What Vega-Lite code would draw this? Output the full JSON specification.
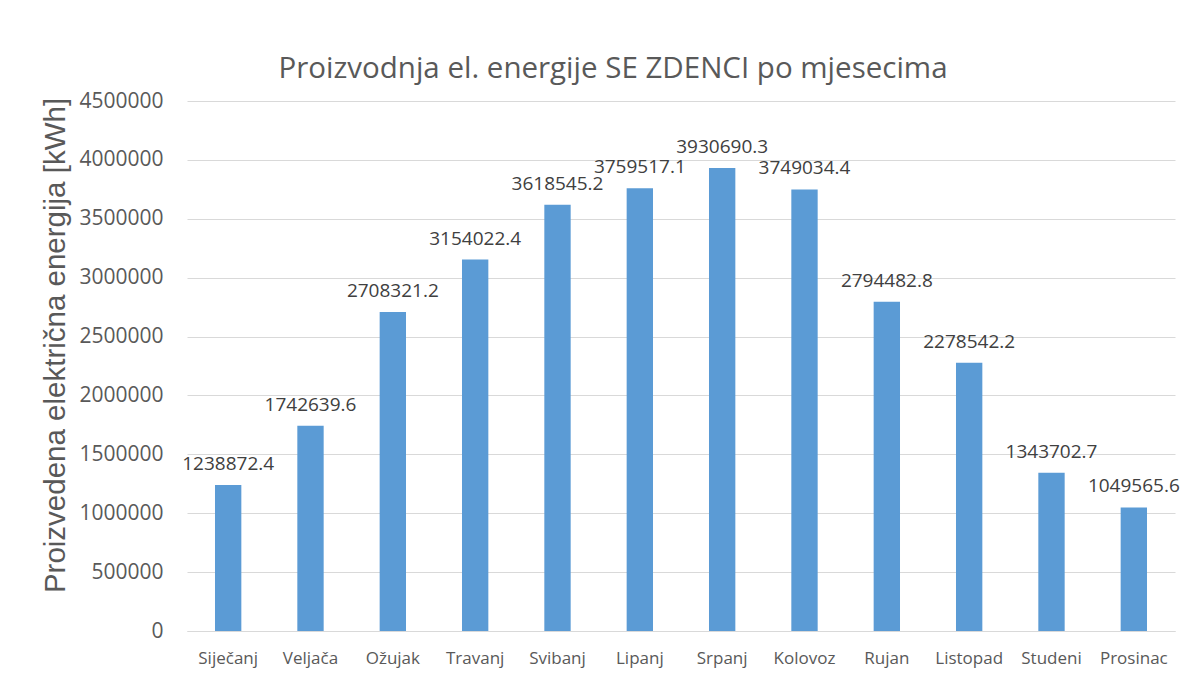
{
  "$schema": "https://vega.github.io/schema/vega-lite/v6.json",
  "width": 988,
  "height": 530,
  "autosize": {"type": "none"},
  "padding": {"left": 187, "top": 101, "right": 14, "bottom": 48},
  "background": "white",
  "title": {
    "text": "Proizvodnja el. energije SE ZDENCI po mjesecima",
    "font": "Open Sans",
    "fontSize": 29.5,
    "fontWeight": "normal",
    "color": "#595959",
    "anchor": "middle",
    "frame": "group",
    "dx": -68,
    "offset": 6
  },
  "data": {
    "values": [
      {"mjesec": "Siječanj", "kWh": 1238872.4},
      {"mjesec": "Veljača", "kWh": 1742639.6},
      {"mjesec": "Ožujak", "kWh": 2708321.2},
      {"mjesec": "Travanj", "kWh": 3154022.4},
      {"mjesec": "Svibanj", "kWh": 3618545.2},
      {"mjesec": "Lipanj", "kWh": 3759517.1},
      {"mjesec": "Srpanj", "kWh": 3930690.3},
      {"mjesec": "Kolovoz", "kWh": 3749034.4},
      {"mjesec": "Rujan", "kWh": 2794482.8},
      {"mjesec": "Listopad", "kWh": 2278542.2},
      {"mjesec": "Studeni", "kWh": 1343702.7},
      {"mjesec": "Prosinac", "kWh": 1049565.6}
    ]
  },
  "config": {
    "view": {"stroke": null},
    "axis": {"labelFont": "Open Sans", "titleFont": "Liberation Sans"}
  },
  "encoding": {
    "x": {
      "field": "mjesec",
      "type": "nominal",
      "sort": null,
      "scale": {"paddingInner": 0.68, "paddingOuter": 0.34},
      "axis": {
        "title": null,
        "labelAngle": 0,
        "ticks": false,
        "domain": true,
        "domainColor": "#d9d9d9",
        "labelFontSize": 17,
        "labelColor": "#595959",
        "labelPadding": 19
      }
    },
    "y": {
      "field": "kWh",
      "type": "quantitative",
      "scale": {"domain": [0, 4500000], "nice": false},
      "axis": {
        "title": "Proizvedena električna energija [kWh]",
        "titleFontSize": 29.5,
        "titleFontWeight": "normal",
        "titleColor": "#595959",
        "titleAngle": -90,
        "titleBaseline": "middle",
        "titleAlign": "center",
        "titleX": -132,
        "titleY": 244,
        "values": [0, 500000, 1000000, 1500000, 2000000, 2500000, 3000000, 3500000, 4000000, 4500000],
        "format": "d",
        "labelFontSize": 21,
        "labelColor": "#595959",
        "labelPadding": 24,
        "ticks": false,
        "domain": false,
        "grid": true,
        "gridColor": "#d9d9d9"
      }
    }
  },
  "layer": [
    {"mark": {"type": "bar", "color": "#5b9bd5"}},
    {
      "mark": {
        "type": "text",
        "font": "Open Sans",
        "fontSize": 19,
        "color": "#404040",
        "baseline": "alphabetic",
        "dy": -15
      },
      "encoding": {"text": {"field": "kWh", "type": "quantitative", "format": ".1f"}}
    }
  ]
}
